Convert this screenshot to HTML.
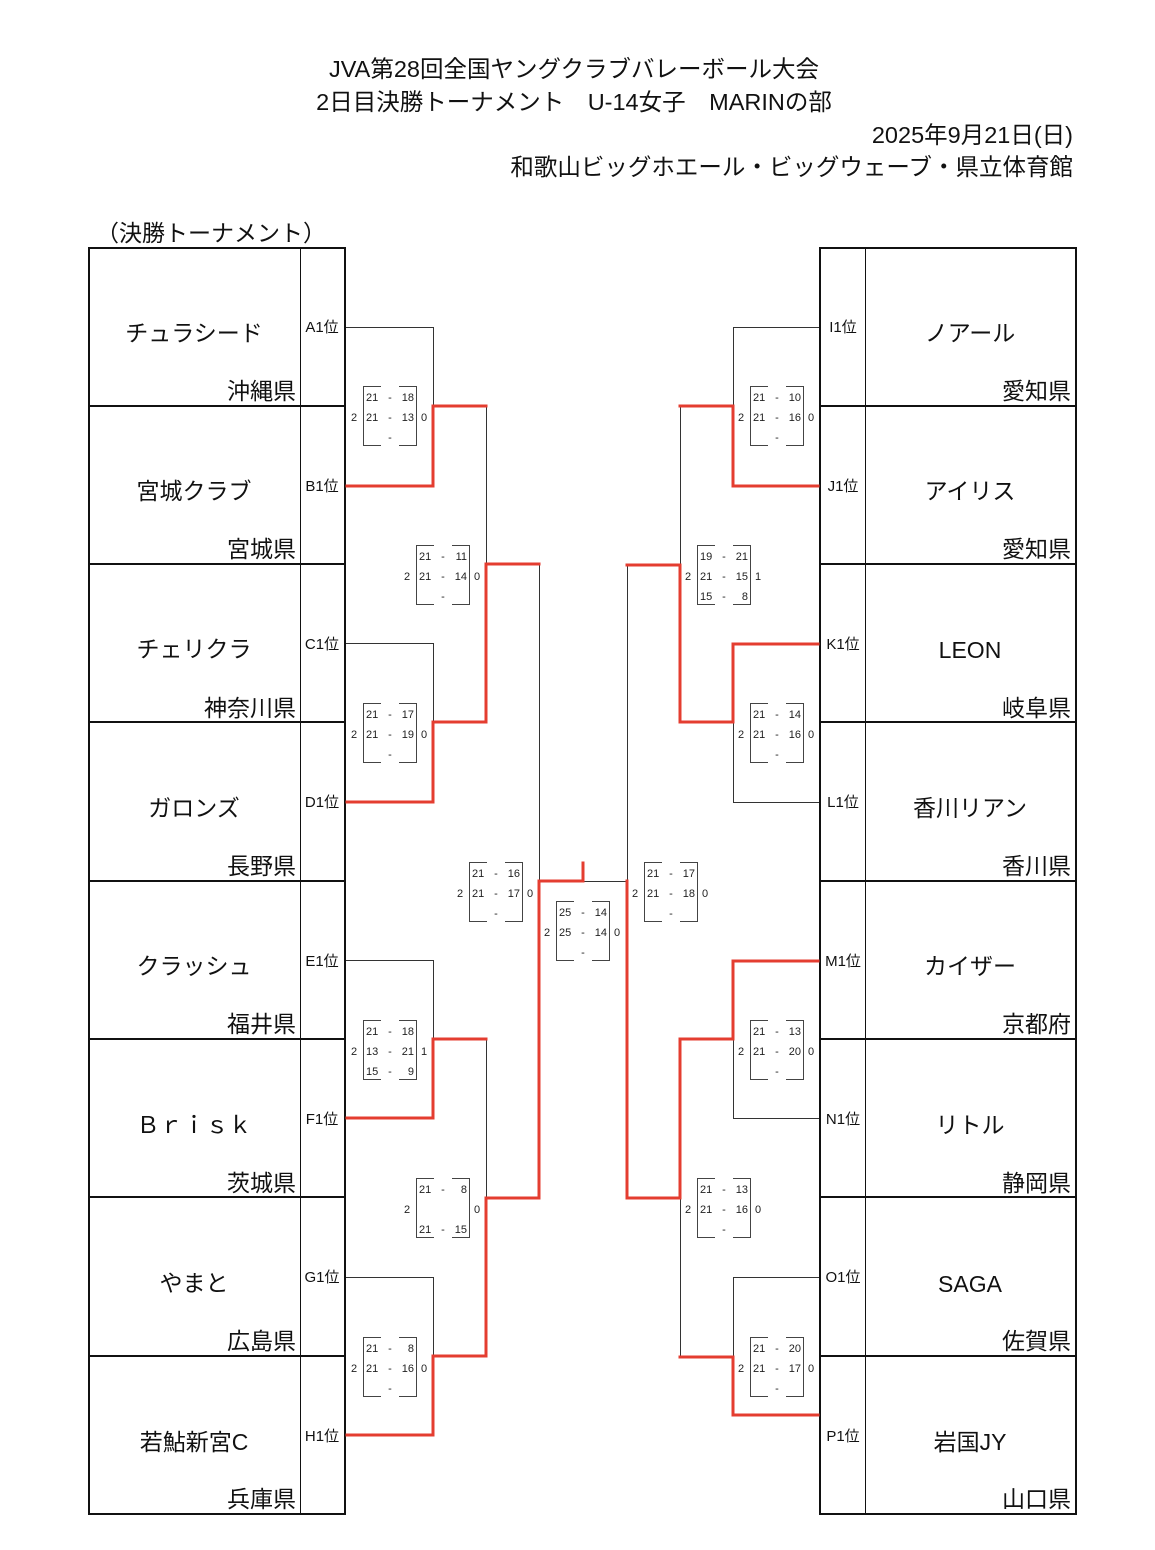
<!DOCTYPE html>
<html><head><meta charset="utf-8">
<style>
html,body{margin:0;padding:0;background:#fff;}
svg{display:block;}
.h{font-family:"Liberation Sans","Noto Sans CJK JP",sans-serif;font-size:23.5px;fill:#111;}
.h2{font-family:"Liberation Sans","Noto Sans CJK JP",sans-serif;font-size:23px;fill:#111;}
.n{font-family:"Liberation Sans","Noto Sans CJK JP",sans-serif;font-size:23px;fill:#111;text-anchor:middle;}
.p{font-family:"Liberation Sans","Noto Sans CJK JP",sans-serif;font-size:23px;fill:#111;text-anchor:end;}
.l{font-family:"Liberation Sans","Noto Sans CJK JP",sans-serif;font-size:15px;fill:#111;text-anchor:middle;}
.s{font-family:"Liberation Sans",sans-serif;font-size:11px;fill:#222;}
.e{text-anchor:end;}
.m{text-anchor:middle;}
.k{fill:none;stroke:#333;stroke-width:1;}
.r{fill:none;stroke:#e43d30;stroke-width:3;stroke-linejoin:miter;stroke-linecap:square;}
.b{fill:none;stroke:#444;stroke-width:1;}
.t{fill:none;stroke:#111;stroke-width:2;}
.t1{fill:none;stroke:#111;stroke-width:1;}
</style></head>
<body>
<svg width="1155" height="1550" viewBox="0 0 1155 1550" xmlns="http://www.w3.org/2000/svg">
<!-- Header -->
<text class="h" x="574" y="77" text-anchor="middle">JVA第28回全国ヤングクラブバレーボール大会</text>
<text class="h" x="574" y="110" text-anchor="middle">2日目決勝トーナメント　U-14女子　MARINの部</text>
<text class="h" x="1073" y="143" text-anchor="end">2025年9月21日(日)</text>
<text class="h" x="1073" y="175" text-anchor="end">和歌山ビッグホエール・ビッグウェーブ・県立体育館</text>
<text class="h2" x="96" y="241">（決勝トーナメント）</text>

<!-- Left table -->
<rect class="t" x="89" y="248" width="256" height="1266"/>
<line class="t1" x1="300.5" y1="248" x2="300.5" y2="1514"/>
<g class="t">
<line x1="89" y1="406" x2="345" y2="406"/>
<line x1="89" y1="564" x2="345" y2="564"/>
<line x1="89" y1="722" x2="345" y2="722"/>
<line x1="89" y1="881" x2="345" y2="881"/>
<line x1="89" y1="1039" x2="345" y2="1039"/>
<line x1="89" y1="1197" x2="345" y2="1197"/>
<line x1="89" y1="1356" x2="345" y2="1356"/>
</g>

<!-- Right table -->
<rect class="t" x="820" y="248" width="256" height="1266"/>
<line class="t1" x1="865.5" y1="248" x2="865.5" y2="1514"/>
<g class="t">
<line x1="820" y1="406" x2="1076" y2="406"/>
<line x1="820" y1="564" x2="1076" y2="564"/>
<line x1="820" y1="722" x2="1076" y2="722"/>
<line x1="820" y1="881" x2="1076" y2="881"/>
<line x1="820" y1="1039" x2="1076" y2="1039"/>
<line x1="820" y1="1197" x2="1076" y2="1197"/>
<line x1="820" y1="1356" x2="1076" y2="1356"/>
</g>

<!-- Left names -->
<text class="n" x="194" y="341">チュラシード</text><text class="p" x="296" y="399">沖縄県</text>
<text class="n" x="194" y="499">宮城クラブ</text><text class="p" x="296" y="557">宮城県</text>
<text class="n" x="194" y="657">チェリクラ</text><text class="p" x="296" y="716">神奈川県</text>
<text class="n" x="194" y="816">ガロンズ</text><text class="p" x="296" y="874">長野県</text>
<text class="n" x="194" y="974">クラッシュ</text><text class="p" x="296" y="1032">福井県</text>
<text class="n" x="194" y="1133">Ｂｒｉｓｋ</text><text class="p" x="296" y="1191">茨城県</text>
<text class="n" x="194" y="1291">やまと</text><text class="p" x="296" y="1349">広島県</text>
<text class="n" x="194" y="1450">若鮎新宮C</text><text class="p" x="296" y="1507">兵庫県</text>

<!-- Left labels -->
<text class="l" x="322" y="332">A1位</text>
<text class="l" x="322" y="491">B1位</text>
<text class="l" x="322" y="649">C1位</text>
<text class="l" x="322" y="807">D1位</text>
<text class="l" x="322" y="966">E1位</text>
<text class="l" x="322" y="1124">F1位</text>
<text class="l" x="322" y="1282">G1位</text>
<text class="l" x="322" y="1441">H1位</text>

<!-- Right names -->
<text class="n" x="970" y="341">ノアール</text><text class="p" x="1071" y="399">愛知県</text>
<text class="n" x="970" y="499">アイリス</text><text class="p" x="1071" y="557">愛知県</text>
<text class="n" x="970" y="658">LEON</text><text class="p" x="1071" y="716">岐阜県</text>
<text class="n" x="970" y="816">香川リアン</text><text class="p" x="1071" y="874">香川県</text>
<text class="n" x="970" y="974">カイザー</text><text class="p" x="1071" y="1032">京都府</text>
<text class="n" x="970" y="1133">リトル</text><text class="p" x="1071" y="1191">静岡県</text>
<text class="n" x="970" y="1292">SAGA</text><text class="p" x="1071" y="1349">佐賀県</text>
<text class="n" x="970" y="1450">岩国JY</text><text class="p" x="1071" y="1507">山口県</text>

<!-- Right labels -->
<text class="l" x="843" y="332">I1位</text>
<text class="l" x="843" y="491">J1位</text>
<text class="l" x="843" y="649">K1位</text>
<text class="l" x="843" y="807">L1位</text>
<text class="l" x="843" y="966">M1位</text>
<text class="l" x="843" y="1124">N1位</text>
<text class="l" x="843" y="1282">O1位</text>
<text class="l" x="843" y="1441">P1位</text>

<!-- Left bracket black lines -->
<path class="k" d="M346,327.5H433.5V406"/>
<path class="k" d="M486.5,406V564"/>
<path class="k" d="M346,643.5H433.5V722"/>
<path class="k" d="M539.5,564V881"/>
<path class="k" d="M346,960.5H433.5V1039"/>
<path class="k" d="M486.5,1039V1198"/>
<path class="k" d="M346,1277.5H433.5V1356"/>
<path class="k" d="M583,881.5H627"/>
<!-- Left red -->
<path class="r" d="M347,486H433V406H486"/>
<path class="r" d="M347,802H433V722H486V564H539"/>
<path class="r" d="M347,1118H433V1039H486"/>
<path class="r" d="M347,1435H433V1356H486V1198H539V881H583V863"/>

<!-- Right bracket black lines -->
<path class="k" d="M819,327.5H733.5V406"/>
<path class="k" d="M680.5,406V564"/>
<path class="k" d="M819,802.5H733.5V722"/>
<path class="k" d="M627.5,564V881"/>
<path class="k" d="M819,1118.5H733.5V1039"/>
<path class="k" d="M680.5,1198V1356"/>
<path class="k" d="M819,1277.5H733.5V1356"/>
<!-- Right red -->
<path class="r" d="M818,486H733V406H680"/>
<path class="r" d="M818,644H733V722H680V565H627"/>
<path class="r" d="M818,961H733V1039H680V1198H627V881"/>
<path class="r" d="M818,1415H733V1357H680"/>

<!-- Score boxes -->
<g class="b">
<path d="M381,386.5H363.5V445.5H381M399,386.5H416.5V445.5H399"/>
<path d="M381,703.5H363.5V762.5H381M399,703.5H416.5V762.5H399"/>
<path d="M381,1020.5H363.5V1079.5H381M399,1020.5H416.5V1079.5H399"/>
<path d="M381,1337.5H363.5V1396.5H381M399,1337.5H416.5V1396.5H399"/>
<path d="M434,545.5H416.5V604.5H434M452,545.5H469.5V604.5H452"/>
<path d="M434,1178.5H416.5V1237.5H434M452,1178.5H469.5V1237.5H452"/>
<path d="M487,862.5H469.5V921.5H487M505,862.5H522.5V921.5H505"/>
<path d="M574,901.5H556.5V960.5H574M592,901.5H609.5V960.5H592"/>
<path d="M662,862.5H644.5V921.5H662M680,862.5H697.5V921.5H680"/>
<path d="M715,545.5H697.5V604.5H715M733,545.5H750.5V604.5H733"/>
<path d="M715,1178.5H697.5V1237.5H715M733,1178.5H750.5V1237.5H733"/>
<path d="M768,386.5H750.5V445.5H768M786,386.5H803.5V445.5H786"/>
<path d="M768,703.5H750.5V762.5H768M786,703.5H803.5V762.5H786"/>
<path d="M768,1020.5H750.5V1079.5H768M786,1020.5H803.5V1079.5H786"/>
<path d="M768,1337.5H750.5V1396.5H768M786,1337.5H803.5V1396.5H786"/>
</g>

<g class="s">
<!-- box 1 (363,386) -->
<text x="366" y="401">21</text><text class="m" x="390" y="401">-</text><text class="e" x="414" y="401">18</text>
<text x="366" y="421">21</text><text class="m" x="390" y="421">-</text><text class="e" x="414" y="421">13</text>
<text class="m" x="390" y="441">-</text>
<text class="m" x="354" y="421">2</text><text class="m" x="424" y="421">0</text>
<!-- box 2 (363,703) -->
<text x="366" y="718">21</text><text class="m" x="390" y="718">-</text><text class="e" x="414" y="718">17</text>
<text x="366" y="738">21</text><text class="m" x="390" y="738">-</text><text class="e" x="414" y="738">19</text>
<text class="m" x="390" y="758">-</text>
<text class="m" x="354" y="738">2</text><text class="m" x="424" y="738">0</text>
<!-- box 3 (363,1020) -->
<text x="366" y="1035">21</text><text class="m" x="390" y="1035">-</text><text class="e" x="414" y="1035">18</text>
<text x="366" y="1055">13</text><text class="m" x="390" y="1055">-</text><text class="e" x="414" y="1055">21</text>
<text x="366" y="1075">15</text><text class="m" x="390" y="1075">-</text><text class="e" x="414" y="1075">9</text>
<text class="m" x="354" y="1055">2</text><text class="m" x="424" y="1055">1</text>
<!-- box 4 (363,1337) -->
<text x="366" y="1352">21</text><text class="m" x="390" y="1352">-</text><text class="e" x="414" y="1352">8</text>
<text x="366" y="1372">21</text><text class="m" x="390" y="1372">-</text><text class="e" x="414" y="1372">16</text>
<text class="m" x="390" y="1392">-</text>
<text class="m" x="354" y="1372">2</text><text class="m" x="424" y="1372">0</text>
<!-- box 5 (416,545) -->
<text x="419" y="560">21</text><text class="m" x="443" y="560">-</text><text class="e" x="467" y="560">11</text>
<text x="419" y="580">21</text><text class="m" x="443" y="580">-</text><text class="e" x="467" y="580">14</text>
<text class="m" x="443" y="600">-</text>
<text class="m" x="407" y="580">2</text><text class="m" x="477" y="580">0</text>
<!-- box 6 (416,1178) -->
<text x="419" y="1193">21</text><text class="m" x="443" y="1193">-</text><text class="e" x="467" y="1193">8</text>
<text x="419" y="1233">21</text><text class="m" x="443" y="1233">-</text><text class="e" x="467" y="1233">15</text>
<text class="m" x="407" y="1213">2</text><text class="m" x="477" y="1213">0</text>
<!-- box 7 (469,862) -->
<text x="472" y="877">21</text><text class="m" x="496" y="877">-</text><text class="e" x="520" y="877">16</text>
<text x="472" y="897">21</text><text class="m" x="496" y="897">-</text><text class="e" x="520" y="897">17</text>
<text class="m" x="496" y="917">-</text>
<text class="m" x="460" y="897">2</text><text class="m" x="530" y="897">0</text>
<!-- box 8 final (556,901) -->
<text x="559" y="916">25</text><text class="m" x="583" y="916">-</text><text class="e" x="607" y="916">14</text>
<text x="559" y="936">25</text><text class="m" x="583" y="936">-</text><text class="e" x="607" y="936">14</text>
<text class="m" x="583" y="956">-</text>
<text class="m" x="547" y="936">2</text><text class="m" x="617" y="936">0</text>
<!-- box 9 (644,862) -->
<text x="647" y="877">21</text><text class="m" x="671" y="877">-</text><text class="e" x="695" y="877">17</text>
<text x="647" y="897">21</text><text class="m" x="671" y="897">-</text><text class="e" x="695" y="897">18</text>
<text class="m" x="671" y="917">-</text>
<text class="m" x="635" y="897">2</text><text class="m" x="705" y="897">0</text>
<!-- box 10 (697,545) -->
<text x="700" y="560">19</text><text class="m" x="724" y="560">-</text><text class="e" x="748" y="560">21</text>
<text x="700" y="580">21</text><text class="m" x="724" y="580">-</text><text class="e" x="748" y="580">15</text>
<text x="700" y="600">15</text><text class="m" x="724" y="600">-</text><text class="e" x="748" y="600">8</text>
<text class="m" x="688" y="580">2</text><text class="m" x="758" y="580">1</text>
<!-- box 11 (697,1178) -->
<text x="700" y="1193">21</text><text class="m" x="724" y="1193">-</text><text class="e" x="748" y="1193">13</text>
<text x="700" y="1213">21</text><text class="m" x="724" y="1213">-</text><text class="e" x="748" y="1213">16</text>
<text class="m" x="724" y="1233">-</text>
<text class="m" x="688" y="1213">2</text><text class="m" x="758" y="1213">0</text>
<!-- box 12 (750,386) -->
<text x="753" y="401">21</text><text class="m" x="777" y="401">-</text><text class="e" x="801" y="401">10</text>
<text x="753" y="421">21</text><text class="m" x="777" y="421">-</text><text class="e" x="801" y="421">16</text>
<text class="m" x="777" y="441">-</text>
<text class="m" x="741" y="421">2</text><text class="m" x="811" y="421">0</text>
<!-- box 13 (750,703) -->
<text x="753" y="718">21</text><text class="m" x="777" y="718">-</text><text class="e" x="801" y="718">14</text>
<text x="753" y="738">21</text><text class="m" x="777" y="738">-</text><text class="e" x="801" y="738">16</text>
<text class="m" x="777" y="758">-</text>
<text class="m" x="741" y="738">2</text><text class="m" x="811" y="738">0</text>
<!-- box 14 (750,1020) -->
<text x="753" y="1035">21</text><text class="m" x="777" y="1035">-</text><text class="e" x="801" y="1035">13</text>
<text x="753" y="1055">21</text><text class="m" x="777" y="1055">-</text><text class="e" x="801" y="1055">20</text>
<text class="m" x="777" y="1075">-</text>
<text class="m" x="741" y="1055">2</text><text class="m" x="811" y="1055">0</text>
<!-- box 15 (750,1337) -->
<text x="753" y="1352">21</text><text class="m" x="777" y="1352">-</text><text class="e" x="801" y="1352">20</text>
<text x="753" y="1372">21</text><text class="m" x="777" y="1372">-</text><text class="e" x="801" y="1372">17</text>
<text class="m" x="777" y="1392">-</text>
<text class="m" x="741" y="1372">2</text><text class="m" x="811" y="1372">0</text>
</g>
</svg>
</body></html>
